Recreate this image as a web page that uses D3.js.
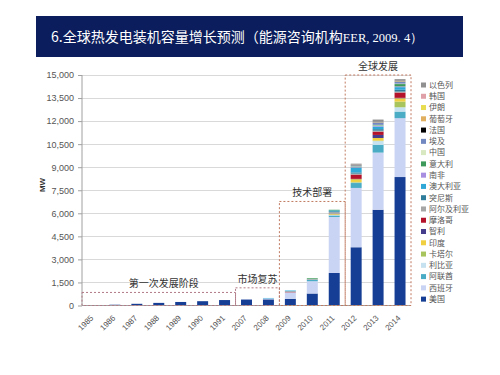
<!DOCTYPE html>
<html><head><meta charset="utf-8">
<script src="https://cdn.jsdelivr.net/npm/d3@7"></script>
<style>body{margin:0;background:#fff;}svg{display:block;}</style>
</head><body>
<svg id="c" width="500" height="375"></svg>
<script>
const years = ["1985","1986","1987","1988","1989","1990","1991","2007","2008","2009","2010","2011","2012","2013","2014"];
// stack order bottom -> top
const seriesNames = ["美国","西班牙","阿联酋","利比亚","卡塔尔","印度","智利","摩洛哥","阿尔及利亚","突尼斯","澳大利亚","南非","意大利","中国","埃及","法国","葡萄牙","伊朗","韩国","以色列"];
const seriesColors = ["#163e94","#c9d3f3","#4bacc6","#c6e2f0","#a8c45c","#f0d040","#453c8c","#b3122a","#a6a6a6","#2e7d9a","#2fa8d8","#a88ee0","#3e9a5a","#d8e8c0","#7288c0","#000000","#e0b060","#e8dc50","#e0a0a8","#909090"];
const usa      = [14, 50, 110, 170, 230, 280, 354, 390, 400, 435, 780, 2120, 3790, 6230, 8360];
const spain    = [0, 0, 0, 0, 0, 0, 0, 11, 60, 420, 800, 3640, 3860, 3720, 3830];
const uae      = [0, 0, 0, 0, 0, 0, 0, 0, 0, 0, 100, 100, 320, 500, 430];
const libya    = [0, 0, 0, 0, 0, 0, 0, 0, 0, 0, 0, 30, 30, 250, 280];
const qatar    = [0, 0, 0, 0, 0, 0, 0, 0, 0, 0, 0, 30, 40, 30, 370];
const india    = [0, 0, 0, 0, 0, 0, 0, 0, 0, 0, 0, 30, 180, 170, 215];
const chile    = [0, 0, 0, 0, 0, 0, 0, 0, 0, 0, 0, 0, 20, 200, 30];
const morocco  = [0, 0, 0, 0, 0, 0, 0, 0, 0, 20, 0, 20, 280, 215, 345];
const algeria  = [0, 0, 0, 0, 0, 0, 0, 0, 0, 60, 40, 100, 60, 60, 60];
const tunisia  = [0, 0, 0, 0, 0, 0, 0, 0, 0, 0, 0, 60, 80, 100, 120];
const australia= [0, 0, 0, 0, 0, 0, 0, 0, 30, 40, 0, 60, 300, 170, 170];
const safrica  = [0, 0, 0, 0, 0, 0, 0, 0, 0, 0, 0, 0, 40, 40, 50];
const italy    = [0, 0, 0, 0, 0, 0, 0, 0, 0, 0, 50, 40, 40, 40, 150];
const china    = [0, 0, 0, 0, 0, 0, 0, 0, 0, 0, 0, 0, 20, 30, 30];
const egypt    = [0, 0, 0, 0, 0, 0, 0, 0, 0, 0, 0, 0, 60, 150, 130];
const france   = [0, 0, 0, 0, 0, 0, 0, 0, 0, 0, 0, 0, 10, 10, 10];
const portugal = [0, 0, 0, 0, 0, 0, 0, 0, 0, 0, 0, 0, 10, 10, 20];
const iran     = [0, 0, 0, 0, 0, 0, 0, 0, 0, 0, 0, 0, 10, 10, 10];
const korea    = [0, 0, 0, 0, 0, 0, 0, 0, 0, 0, 0, 0, 10, 15, 10];
const israel   = [0, 0, 0, 0, 0, 0, 0, 0, 0, 0, 0, 0, 70, 150, 110];
const seriesValues = [usa,spain,uae,libya,qatar,india,chile,morocco,algeria,tunisia,australia,safrica,italy,china,egypt,france,portugal,iran,korea,israel];
const yTicks = [0,1500,3000,4500,6000,7500,9000,10500,12000,13500,15000];
// phase boxes: [first year, last year, box top value, label]
const phaseLabels = ["第一次发展阶段","市场复苏","技术部署","全球发展"];
const phaseStart  = ["1985","2007","2009","2012"];
const phaseEnd    = ["1991","2008","2011","2014"];
const phaseTop    = [850, 1150, 6770, 15000];
const titleText = "6.全球热发电装机容量增长预测（能源咨询机构";
const titleTail = "EER, 2009. 4）";

const svg = d3.select("#c");
// title banner
svg.append("rect").attr("x",36).attr("y",16).attr("width",427).attr("height",41).attr("fill","#0b1d5c");
const tt = svg.append("text").attr("x",51).attr("y",42).attr("fill","#fff")
  .style("font-family","'Noto Sans CJK SC', sans-serif").style("font-size","14px");
tt.append("tspan").text(titleText);
tt.append("tspan").style("font-family","'Liberation Serif', serif").style("font-size","13px")
  .attr("textLength",80).attr("lengthAdjust","spacingAndGlyphs").text(titleTail);

const x = d3.scaleBand().domain(years).range([82,411]).paddingInner(0.5).paddingOuter(0.25);
const y = d3.scaleLinear().domain([0,15000]).range([305.5,75]);

// gridlines
svg.append("g").selectAll("line").data(yTicks.slice(1)).join("line")
  .attr("x1",82).attr("x2",411).attr("y1",d=>Math.round(y(d))+0.5).attr("y2",d=>Math.round(y(d))+0.5)
  .attr("stroke","#d9d9d9").attr("stroke-width",1);

// stacked data
const rows = years.map((yr,i)=>{const o={year:yr}; seriesNames.forEach((s,j)=>o[s]=seriesValues[j][i]); return o;});
const stack = d3.stack().keys(seriesNames)(rows);
svg.append("g").selectAll("g").data(stack).join("g")
  .attr("fill",(d,i)=>seriesColors[i])
  .selectAll("rect").data(d=>d).join("rect")
  .attr("x",d=>x(d.data.year)).attr("width",x.bandwidth())
  .attr("y",d=>y(d[1])).attr("height",d=>Math.max(0,y(d[0])-y(d[1])));

// y axis
const yAxis = d3.axisLeft(y).tickValues(yTicks).tickFormat(d3.format(",")).tickSize(4).tickPadding(4);
const ga = svg.append("g").attr("transform","translate(82,0)").call(yAxis);
ga.select(".domain").attr("stroke","#a0a0a0").attr("d","M0,75V305.5");
ga.selectAll(".tick line").attr("stroke","#a0a0a0");
ga.selectAll("text").attr("fill","#555").style("font-family","Arial, 'Liberation Sans', sans-serif").style("font-size","9px");

// x axis
const xAxis = d3.axisBottom(x).tickSize(0).tickPadding(0);
const gx = svg.append("g").attr("transform","translate(0,305.5)").call(xAxis);
gx.select(".domain").attr("stroke","#a0a0a0").attr("d","M82,0H411");
gx.selectAll("text").attr("fill","#555").style("font-family","Arial, 'Liberation Sans', sans-serif").style("font-size","8px")
  .attr("text-anchor","end").attr("dy","0.35em")
  .attr("transform","translate(-1,11) rotate(-45)");

// phase boxes
const bnd = yr => x(yr) - x.step()*x.paddingInner()/2;
phaseLabels.forEach((lab,i)=>{
  const x0 = i===0 ? 82 : bnd(phaseStart[i]);
  const x1 = bnd(phaseEnd[i]) + x.step();
  const yt = y(phaseTop[i]);
  svg.append("rect").attr("x",x0).attr("y",yt).attr("width",x1-x0).attr("height",305.5-yt)
    .attr("fill","none").attr("stroke", i<2 ? "#b07a86" : "#c07a60").attr("stroke-width",1)
    .attr("stroke-dasharray","2,2");
  svg.append("text").attr("x",(x0+x1)/2 + (i===0?5:0)).attr("y",yt-5).attr("text-anchor","middle")
    .attr("fill","#333").style("font-family","'Noto Sans CJK SC', sans-serif").style("font-size","10px").text(lab);
});

// MW label
svg.append("text").attr("transform","translate(45,185) rotate(-90)").attr("text-anchor","middle")
  .style("font-family","Arial, sans-serif").style("font-size","8px").style("font-weight","bold").attr("fill","#333").text("MW");

// legend (reversed order)
const legendItems = seriesNames.map((s,i)=>({name:s,color:seriesColors[i]})).reverse();
const lg = svg.append("g").selectAll("g").data(legendItems).join("g")
  .attr("transform",(d,i)=>`translate(421,${85 + i*11.27})`);
lg.append("rect").attr("x",0).attr("y",-2.5).attr("width",5).attr("height",5).attr("fill",d=>d.color);
lg.append("text").attr("x",8).attr("y",0).attr("dy","0.35em").attr("fill","#555")
  .style("font-family","'Noto Sans CJK SC', sans-serif").style("font-size","8px").text(d=>d.name);
</script>
</body></html>
